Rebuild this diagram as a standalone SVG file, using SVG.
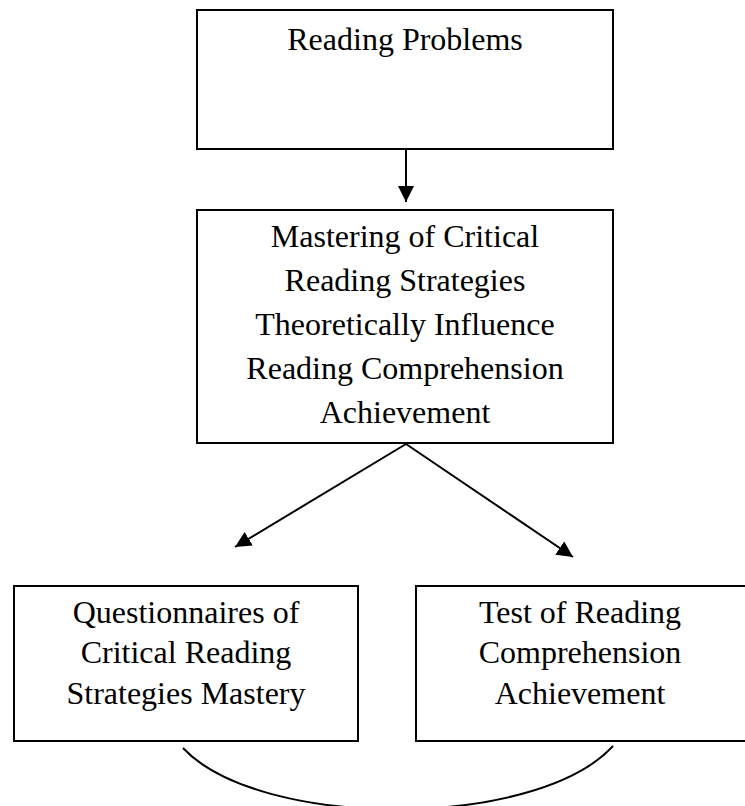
<svg xmlns="http://www.w3.org/2000/svg" width="745" height="806" viewBox="0 0 745 806">
<style>
.box{fill:#fff;stroke:#000;stroke-width:2}
.t{font-family:"Liberation Serif","Times New Roman",serif;font-size:32px;fill:#000;text-anchor:middle}
.c{fill:none;stroke:#000;stroke-width:2}
</style>
<defs>
<marker id="ah" markerUnits="userSpaceOnUse" markerWidth="18" markerHeight="18" refX="16" refY="8" orient="auto">
<path d="M0,0 L16,8 L0,16 Z" fill="#000"/>
</marker>
</defs>
<rect width="745" height="806" fill="#fff"/>
<g id="n1">
<rect class="box" x="197" y="10" width="416" height="139"/>
<text class="t" x="405" y="50">Reading Problems</text>
</g>
<g id="n2">
<rect class="box" x="197" y="210" width="416" height="233"/>
<text class="t" x="405" y="247">Mastering of Critical</text>
<text class="t" x="405" y="291">Reading Strategies</text>
<text class="t" x="405" y="335">Theoretically Influence</text>
<text class="t" x="405" y="379">Reading Comprehension</text>
<text class="t" x="405" y="423">Achievement</text>
</g>
<g id="n3">
<rect class="box" x="14" y="586" width="344" height="155"/>
<text class="t" x="186" y="623">Questionnaires of</text>
<text class="t" x="186" y="663">Critical Reading</text>
<text class="t" x="186" y="704">Strategies Mastery</text>
</g>
<g id="n4">
<rect class="box" x="416" y="586" width="340" height="155"/>
<text class="t" x="580" y="623">Test of Reading</text>
<text class="t" x="580" y="663">Comprehension</text>
<text class="t" x="580" y="704">Achievement</text>
</g>
<g id="connectors">
<line class="c" x1="406" y1="150" x2="406" y2="202" marker-end="url(#ah)"/>
<line class="c" x1="406" y1="444" x2="235" y2="547" marker-end="url(#ah)"/>
<line class="c" x1="406" y1="444" x2="573" y2="557" marker-end="url(#ah)"/>
<path class="c" d="M183,748 C260,830 536,830 613,746"/>
</g>
</svg>
